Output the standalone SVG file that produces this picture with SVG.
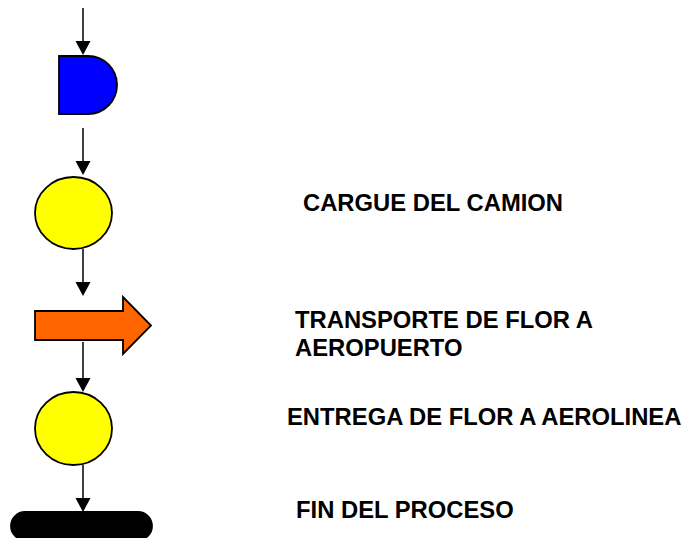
<svg xmlns="http://www.w3.org/2000/svg" width="700" height="538" viewBox="0 0 700 538">
<style>
.s{stroke:#000;stroke-width:1.8}
.c{stroke:#000;stroke-width:1.5;fill:none}
.h{fill:#000}
.t{font-family:"Liberation Sans",Arial,sans-serif;font-weight:bold;font-size:23.8px;fill:#000}
</style>
<rect width="700" height="538" fill="#fff"/>
<g id="connectors">
<line class="c" x1="83" y1="8" x2="83" y2="44"/>
<polygon class="h" points="75.5,41 90.5,41 83,55"/>
<line class="c" x1="83" y1="128" x2="83" y2="164"/>
<polygon class="h" points="75.5,161 90.5,161 83,175"/>
<line class="c" x1="83" y1="249" x2="83" y2="285"/>
<polygon class="h" points="75.5,282 90.5,282 83,296"/>
<line class="c" x1="83" y1="342" x2="83" y2="380"/>
<polygon class="h" points="75.5,378 90.5,378 83,392"/>
<line class="c" x1="83" y1="465" x2="83" y2="500"/>
<polygon class="h" points="75.5,498 90.5,498 83,512"/>
</g>
<g id="delay">
<path class="s" fill="#0000FF" d="M59,56 H88 A29,29 0 0 1 88,114 H59 Z"/>
</g>
<g id="op1">
<ellipse class="s" fill="#FFFF00" cx="73.5" cy="213" rx="38.5" ry="36"/>
<text class="t" x="303" y="210.5">CARGUE DEL CAMION</text>
</g>
<g id="transport">
<path class="s" fill="#FF6600" d="M35,311 H123 V297 L151,325.5 L123,354 V340 H35 Z"/>
<text class="t" x="295" y="328">TRANSPORTE DE FLOR A</text>
<text class="t" x="295" y="356">AEROPUERTO</text>
</g>
<g id="op2">
<ellipse class="s" fill="#FFFF00" cx="73.5" cy="428.5" rx="38.5" ry="36.5"/>
<text class="t" x="287" y="425">ENTREGA DE FLOR A AEROLINEA</text>
</g>
<g id="end">
<rect class="s" fill="#000" x="11" y="512" width="141" height="28" rx="14"/>
<text class="t" x="296" y="518">FIN DEL PROCESO</text>
</g>
</svg>
